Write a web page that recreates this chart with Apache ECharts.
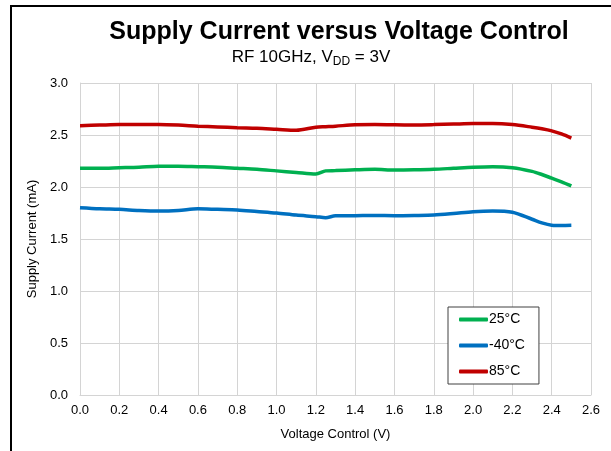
<!DOCTYPE html>
<html><head><meta charset="utf-8">
<script src="https://cdn.jsdelivr.net/npm/echarts@6/dist/echarts.min.js"></script>
<style>html,body{margin:0;padding:0;background:#fff}#c{width:611px;height:451px}</style>
</head><body><div id="c"></div>
<script>
var voltage = [0.0,0.1,0.2,0.3,0.4,0.5,0.6,0.7,0.8,0.9,1.0,1.1,1.2,1.25,1.3,1.4,1.5,1.6,1.7,1.8,1.9,2.0,2.1,2.2,2.3,2.35,2.4,2.45,2.5];
var t25  = [2.18,2.18,2.185,2.19,2.20,2.20,2.195,2.19,2.18,2.17,2.155,2.14,2.125,2.155,2.158,2.165,2.17,2.163,2.165,2.17,2.18,2.19,2.195,2.185,2.15,2.12,2.085,2.05,2.01];
var tm40 = [1.80,1.79,1.785,1.775,1.77,1.775,1.79,1.785,1.78,1.765,1.75,1.73,1.715,1.705,1.723,1.724,1.726,1.724,1.726,1.73,1.745,1.763,1.77,1.757,1.69,1.655,1.633,1.63,1.632];
var t85  = [2.59,2.595,2.60,2.60,2.60,2.595,2.585,2.578,2.57,2.565,2.555,2.545,2.575,2.58,2.585,2.598,2.60,2.598,2.597,2.60,2.605,2.61,2.61,2.60,2.575,2.56,2.54,2.51,2.47];
var seriesNames = ['25°C','-40°C','85°C'];
var xTicks = ['0.0','0.2','0.4','0.6','0.8','1.0','1.2','1.4','1.6','1.8','2.0','2.2','2.4','2.6'];
var yTicks = ['0.0','0.5','1.0','1.5','2.0','2.5','3.0'];

function pairs(xs, ys){ return xs.map(function(x,i){return [x, ys[i]];}); }
var font = 'Liberation Sans, Arial, sans-serif';
var chart = echarts.init(document.getElementById('c'), null, {renderer:'canvas'});
var colors = ['#00b050','#0070c0','#c00000'];
var datas = [t25, tm40, t85];
chart.setOption({
  animation:false,
  textStyle:{fontFamily:font},
  grid:{left:80,right:20,top:83,bottom:56,containLabel:false},
  graphic:[
    {type:'rect',shape:{x:11,y:6,width:700,height:500},style:{fill:'none',stroke:'#000',lineWidth:2},z:0},
    {type:'text',x:339,y:32,style:{text:'Supply Current versus Voltage Control',font:'bold 25px '+font,fill:'#000',textAlign:'center',textVerticalAlign:'middle'}},
    {type:'text',x:311,y:57,style:{
      rich:{n:{fontSize:17,fontFamily:font,fill:'#000'},s:{fontSize:12,fontFamily:font,fill:'#000',padding:[9,0,0,0]}},
      text:'{n|RF 10GHz, V}{s|DD}{n| = 3V}',textAlign:'center',textVerticalAlign:'middle'}}
  ],
  legend:{
    orient:'vertical',left:448,top:307,
    data:seriesNames,
    icon:'roundRect',
    backgroundColor:'#fff',borderColor:'#404040',borderWidth:1,
    padding:[5,14,5,11],itemGap:11,itemWidth:29,itemHeight:4,
    textStyle:{fontSize:14,color:'#000',fontFamily:font,lineHeight:15,height:15,padding:[0,0,0,-4]}
  },
  xAxis:{
    type:'value',min:0,max:2.6,interval:0.2,
    name:'Voltage Control (V)',nameLocation:'middle',nameGap:33,
    nameTextStyle:{fontSize:13,color:'#000',fontFamily:font},
    axisLine:{show:true,lineStyle:{color:'#d4d4d4',width:1}},
    axisTick:{show:false},
    axisLabel:{fontSize:13,color:'#000',margin:9,formatter:function(v){var i=Math.round(v/0.2);return xTicks[i]!==undefined?xTicks[i]:'';}},
    splitLine:{show:true,lineStyle:{color:'#d4d4d4',width:1}}
  },
  yAxis:{
    type:'value',min:0,max:3,interval:0.5,
    name:'Supply Current (mA)',nameLocation:'middle',nameGap:34,
    nameTextStyle:{fontSize:13,color:'#000',fontFamily:font},
    axisLine:{show:true,lineStyle:{color:'#d4d4d4',width:1}},
    axisTick:{show:false},
    axisLabel:{fontSize:13,color:'#000',margin:12,formatter:function(v){var i=Math.round(v/0.5);return yTicks[i]!==undefined?yTicks[i]:'';}},
    splitLine:{show:true,lineStyle:{color:'#d4d4d4',width:1}}
  },
  series:seriesNames.map(function(n,i){
    return {name:n,type:'line',data:pairs(voltage,datas[i]),smooth:0.3,symbol:'none',
      lineStyle:{color:colors[i],width:3.5},itemStyle:{color:colors[i]},z:3-i+2};
  })
});
</script></body></html>
